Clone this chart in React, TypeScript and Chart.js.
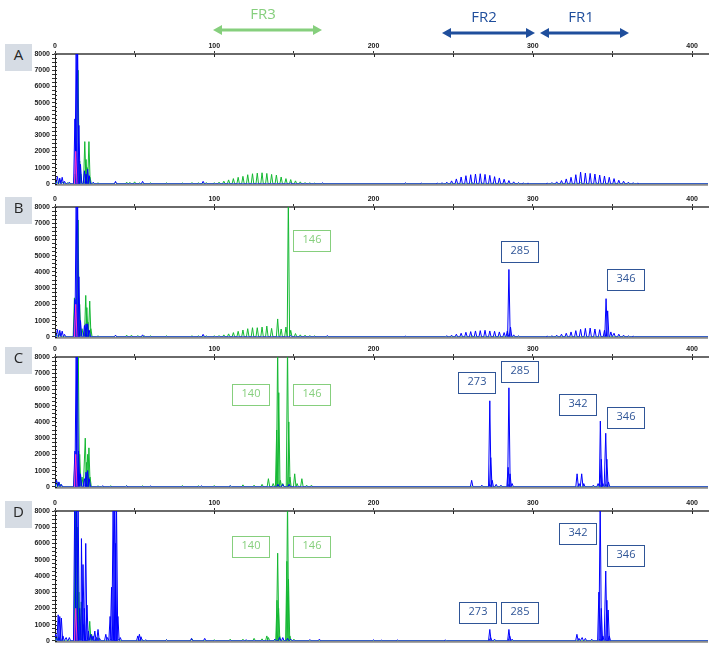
import React, { useEffect, useRef } from 'react';
import { Chart, registerables } from 'chart.js';
Chart.register(...registerables);

// ---------- DATA (fragment size in bp, peak height in RFU) ----------
const xTickValues = [0, 100, 200, 300, 400];
const yTickValues = [0, 1000, 2000, 3000, 4000, 5000, 6000, 7000, 8000];

// Panel A
const aGreenSize = [1, 3, 5, 8, 12.4, 14.5, 15.5, 16.2, 18.7, 19.5, 20.2, 21.3, 22,
  27, 38, 45, 47, 50, 53, 60, 70, 80, 86, 90, 95,
  100, 103, 106, 109, 112, 115, 118, 121, 124, 127, 130, 133, 136, 139, 142, 145, 148, 151, 154, 157, 160, 163,
  262, 268, 275, 330, 340];
const aGreenHeight = [150, 250, 120, 80, 600, 7000, 1400, 600, 2600, 1500, 1000, 2600, 400,
  60, 80, 100, 90, 120, 60, 60, 60, 50, 80, 60, 80,
  60, 100, 160, 240, 320, 400, 460, 560, 620, 660, 680, 640, 580, 540, 420, 320, 260, 180, 120, 80, 60, 40,
  60, 60, 50, 60, 50];
const aBlueSize = [1.5, 3, 4.5, 6, 9, 12.5, 13.3, 14.2, 15, 16, 18.5, 19.5, 20.5, 21.5, 24,
  38, 55, 93, 148, 168, 220, 230,
  240, 243, 246, 249, 252, 255, 258, 261, 264, 267, 270, 273, 276, 279, 282, 285, 288, 291, 294, 297,
  309, 312, 315, 318, 321, 324, 327, 330, 333, 336, 339, 342, 345, 348, 351, 354, 357, 360, 363, 366];
const aBlueHeight = [450, 350, 400, 150, 100, 4000, 8600, 8600, 3600, 1200, 800, 600, 900, 500, 100,
  150, 150, 150, 50, 60, 60, 40,
  40, 60, 100, 180, 300, 420, 500, 560, 600, 620, 580, 520, 440, 360, 280, 200, 120, 80, 50, 40,
  40, 80, 120, 200, 300, 400, 560, 720, 660, 640, 600, 540, 480, 400, 320, 220, 160, 100, 60, 40];
const aPinkSize = [13];
const aPinkHeight = [2000];

// Panel B
const bGreenSize = [1, 3, 12.2, 14.5, 15.5, 17, 19.3, 20, 20.7, 21.8, 22.5,
  27, 38, 45, 48, 52, 56, 60, 70, 86, 90, 95,
  100, 103, 106, 109, 112, 115, 118, 121, 124, 127, 130, 133, 136,
  139.8, 142, 145, 146.5, 148, 151, 154, 157, 160, 163,
  262, 285, 346];
const bGreenHeight = [150, 200, 2400, 7200, 2000, 500, 2550, 1800, 900, 2200, 500,
  60, 80, 100, 100, 80, 60, 60, 60, 60, 60, 60,
  60, 80, 120, 180, 260, 340, 420, 500, 560, 560, 600, 660, 520,
  1100, 480, 600, 8600, 400, 200, 120, 100, 80, 60,
  50, 100, 100];
const bBlueSize = [1.5, 3, 4.5, 6, 12.5, 13.3, 14.2, 15, 16, 18.5, 19.5, 20.5, 21.5,
  38, 55, 93, 148, 171, 220,
  246, 249, 252, 255, 258, 261, 264, 267, 270, 273, 276, 279, 282, 284, 285, 286, 288, 291,
  309, 312, 315, 318, 321, 324, 327, 330, 333, 336, 339, 342, 345, 346, 347, 349, 351, 354, 357, 360, 363];
const bBlueHeight = [450, 400, 350, 150, 2300, 8600, 8600, 3700, 1000, 700, 800, 800, 400,
  100, 120, 150, 80, 80, 40,
  60, 100, 160, 220, 280, 320, 360, 380, 400, 360, 340, 300, 260, 360, 4150, 600, 120, 60,
  40, 60, 100, 160, 220, 300, 380, 460, 520, 540, 480, 440, 400, 2350, 1600, 300, 220, 160, 100, 60, 40];
const bPinkSize = [13];
const bPinkHeight = [2000];

// Panel C
const cGreenSize = [1, 2, 3.5, 12.5, 14.6, 15.5, 17, 19, 19.8, 20.5, 21.3, 22,
  27, 35, 45, 55, 80, 90, 100, 110, 118, 125, 130,
  134, 137, 139.2, 139.8, 140.5, 141.5, 143, 146, 146.8, 147.5, 150.5, 152, 155, 158, 161,
  262, 273, 285, 342, 346];
const cGreenHeight = [200, 300, 150, 1500, 8600, 2000, 600, 3000, 1500, 2000, 2400, 600,
  60, 60, 60, 60, 80, 60, 80, 60, 120, 100, 150,
  500, 200, 3500, 8600, 5800, 400, 200, 8600, 4000, 600, 800, 200, 500, 100, 100,
  60, 150, 150, 150, 150];
const cBlueSize = [1, 2.5, 4, 12.5, 13.3, 14, 14.8, 16, 18.5, 19.5, 20.5, 21.5,
  30, 45, 60, 92, 110, 140, 143, 147,
  261.6, 268, 273, 273.6, 274.5, 277, 280, 284.5, 285, 285.7, 287,
  327.8, 329, 330.7, 332, 338, 341, 342.4, 343, 344, 345.8, 346.5, 347.5];
const cBlueHeight = [400, 300, 150, 2200, 8600, 8600, 2200, 800, 500, 900, 1000, 500,
  60, 50, 50, 60, 60, 150, 150, 150,
  400, 100, 5300, 1800, 400, 150, 100, 1200, 6100, 800, 200,
  800, 200, 800, 200, 100, 200, 4050, 1700, 200, 3300, 1700, 300];
const cPinkSize = [13];
const cPinkHeight = [2000];

// Panel D
const dGreenSize = [1, 2.5, 12.8, 13.5, 14.2, 15, 16.5, 18, 21.8, 23, 27,
  35, 40, 55, 70, 86, 100, 110, 118, 125, 130,
  133, 134, 139.4, 139.8, 140.4, 141, 145.6, 146, 146.6, 147.5, 150,
  273, 285, 342];
const dGreenHeight = [300, 200, 8600, 8600, 7000, 3000, 2400, 1000, 1200, 400, 200,
  100, 100, 60, 60, 120, 60, 100, 100, 150, 120,
  300, 200, 2500, 5400, 2000, 300, 4900, 8600, 3800, 300, 100,
  80, 80, 100];
const dBlueSize = [0.5, 2, 3, 4, 5, 7, 9, 12.4, 13.4, 14.5, 15.5, 16.6, 17.6, 18.4, 19.3, 20.1, 21,
  22.5, 23.9, 25, 26, 27, 28, 31.9, 33, 34.6, 35.5, 36.5, 37.5, 38, 38.6, 39.5, 41,
  52, 53, 54, 57, 70, 85.7, 94, 120, 138, 141, 143, 146, 148, 160, 166,
  200, 205, 215, 245, 273, 273.5, 276, 285, 285.5, 287,
  327.7, 329, 331, 333, 337, 341.5, 342.3, 343, 344, 345.8, 346.5, 347.3, 348];
const dBlueHeight = [400, 1600, 1500, 1400, 300, 200, 200, 8600, 8600, 8600, 2000, 6300, 4700, 2000, 6000, 2200, 600,
  400, 300, 600, 200, 700, 150, 400, 200, 1500, 3300, 8600, 8600, 6000, 8600, 1500, 200,
  300, 400, 250, 60, 60, 150, 150, 60, 100, 200, 200, 150, 100, 80, 100,
  60, 40, 50, 50, 700, 200, 100, 700, 300, 100,
  400, 150, 200, 150, 100, 3000, 8600, 2000, 300, 4300, 2500, 1900, 300];
const dPinkSize = [13];
const dPinkHeight = [2000];

const panelLetters = ['A', 'B', 'C', 'D'];
const regionNames = ['FR3', 'FR2', 'FR1'];
const bLabels = ['146', '285', '346'];
const cLabels = ['140', '146', '273', '285', '342', '346'];
const dLabels = ['140', '146', '273', '285', '342', '346'];

// ---------- LAYOUT / STYLE ----------
const X_MAX = 410;
const Y_MAX = 8000;
const HALF_WIDTH = 0.8;
const GREEN = '#14b832';
const BLUE = '#0000ff';
const PINK = '#ff33cc';
const LABEL_GREEN = '#86cf7d';
const LABEL_BLUE = '#2f5597';
const ARROW_BLUE = '#1f4e9c';
const PANEL_TOPS = [54, 207, 357, 511];
const PLOT_H = 133;
const X_AXIS_H = 14;

type Box = { text: string; kind: 'g' | 'b'; left: number; top: number };
const boxLayout: Box[] = [
  { text: bLabels[0], kind: 'g', left: 293, top: 230 },
  { text: bLabels[1], kind: 'b', left: 501, top: 241 },
  { text: bLabels[2], kind: 'b', left: 607, top: 269 },
  { text: cLabels[0], kind: 'g', left: 232, top: 384 },
  { text: cLabels[1], kind: 'g', left: 293, top: 384 },
  { text: cLabels[2], kind: 'b', left: 458, top: 372 },
  { text: cLabels[3], kind: 'b', left: 501, top: 361 },
  { text: cLabels[4], kind: 'b', left: 559, top: 394 },
  { text: cLabels[5], kind: 'b', left: 607, top: 407 },
  { text: dLabels[0], kind: 'g', left: 232, top: 536 },
  { text: dLabels[1], kind: 'g', left: 293, top: 536 },
  { text: dLabels[2], kind: 'b', left: 459, top: 602 },
  { text: dLabels[3], kind: 'b', left: 501, top: 602 },
  { text: dLabels[4], kind: 'b', left: 559, top: 523 },
  { text: dLabels[5], kind: 'b', left: 607, top: 545 },
];

function buildTrace(sizes: number[], heights: number[], fullBaseline: boolean) {
  const pairs = sizes.map((s, i) => [s, heights[i]]).sort((a, b) => a[0] - b[0]);
  const pts: { x: number; y: number }[] = fullBaseline ? [{ x: 0, y: 0 }] : [];
  for (const [s, h] of pairs) {
    pts.push({ x: s - HALF_WIDTH, y: 0 }, { x: s, y: h }, { x: s + HALF_WIDTH, y: 0 });
  }
  if (fullBaseline) pts.push({ x: X_MAX, y: 0 });
  return pts;
}

const axisDecor = {
  id: 'axisDecor',
  beforeDatasetsDraw(chart: any) {
    const { ctx, chartArea } = chart;
    ctx.save();
    ctx.strokeStyle = '#8a8a8a';
    ctx.lineWidth = 2;
    ctx.beginPath();
    ctx.moveTo(chartArea.left, chartArea.bottom + 1);
    ctx.lineTo(chartArea.right, chartArea.bottom + 1);
    ctx.stroke();
    ctx.restore();
  },
  afterDraw(chart: any) {
    const { ctx, chartArea, scales } = chart;
    ctx.save();
    ctx.strokeStyle = '#222';
    ctx.lineWidth = 1;
    ctx.beginPath();
    for (const t of scales.y.ticks) {
      const y = Math.round(scales.y.getPixelForValue(t.value)) + 0.5;
      ctx.moveTo(chartArea.left, y);
      ctx.lineTo(chartArea.left + 2, y);
    }
    for (const t of scales.x.ticks) {
      const x = Math.round(scales.x.getPixelForValue(t.value)) + 0.5;
      ctx.moveTo(x, chartArea.top);
      ctx.lineTo(x, chartArea.top + 3);
    }
    ctx.stroke();
    ctx.restore();
  },
};

type PanelProps = {
  top: number;
  gs: number[]; gh: number[];
  bs: number[]; bh: number[];
  ps: number[]; ph: number[];
};

function Panel({ top, gs, gh, bs, bh, ps, ph }: PanelProps) {
  const ref = useRef<HTMLCanvasElement>(null);
  useEffect(() => {
    const tickFont = { size: 7, family: 'Liberation Sans', weight: 'bold' as const };
    const chart = new Chart(ref.current as HTMLCanvasElement, {
      type: 'line',
      data: {
        datasets: [
          { data: buildTrace(ps, ph, false), borderColor: PINK, borderWidth: 1 },
          { data: buildTrace(bs, bh, true), borderColor: BLUE, borderWidth: 1 },
          { data: buildTrace(gs, gh, true), borderColor: GREEN, borderWidth: 1 },
        ],
      },
      options: {
        animation: false,
        responsive: false,
        devicePixelRatio: 1,
        layout: { padding: { top: 0, left: 0, right: 4, bottom: 3 } },
        plugins: { legend: { display: false }, tooltip: { enabled: false } },
        elements: { point: { radius: 0 }, line: { tension: 0 } },
        scales: {
          x: {
            type: 'linear',
            position: 'top',
            min: 0,
            max: X_MAX,
            afterFit: (s: any) => { s.height = X_AXIS_H; },
            ticks: {
              stepSize: 50,
              includeBounds: false,
              autoSkip: false,
              maxRotation: 0,
              padding: 1,
              color: '#222',
              font: tickFont,
              callback: (v: any) => (xTickValues.includes(Number(v)) ? String(v) : ''),
            },
            grid: { drawOnChartArea: false, tickLength: 3, color: '#333' },
            border: { color: '#6a6a6a', width: 2 },
          },
          y: {
            min: 0,
            max: Y_MAX,
            afterFit: (s: any) => { s.width = 55; },
            ticks: {
              stepSize: 250,
              autoSkip: false,
              padding: 2,
              color: '#222',
              font: tickFont,
              callback: (v: any) => (yTickValues.includes(Number(v)) ? String(v) : ''),
            },
            grid: { drawOnChartArea: false, tickLength: 3, color: '#333' },
            border: { color: '#222', width: 1 },
          },
        },
      },
      plugins: [axisDecor],
    } as any);
    return () => chart.destroy();
  }, []);
  return (
    <canvas
      ref={ref}
      width={712}
      height={X_AXIS_H + PLOT_H + 3}
      style={{ position: 'absolute', left: 0, top: top - X_AXIS_H }}
    />
  );
}

function Arrow({ x1, x2, y, color }: { x1: number; x2: number; y: number; color: string }) {
  return (
    <g>
      <line x1={x1 + 6} y1={y} x2={x2 - 6} y2={y} stroke={color} strokeWidth={3} />
      <polygon points={`${x1},${y} ${x1 + 9},${y - 5} ${x1 + 9},${y + 5}`} fill={color} />
      <polygon points={`${x2},${y} ${x2 - 9},${y - 5} ${x2 - 9},${y + 5}`} fill={color} />
    </g>
  );
}

export default function App() {
  const panels = [
    { gs: aGreenSize, gh: aGreenHeight, bs: aBlueSize, bh: aBlueHeight, ps: aPinkSize, ph: aPinkHeight },
    { gs: bGreenSize, gh: bGreenHeight, bs: bBlueSize, bh: bBlueHeight, ps: bPinkSize, ph: bPinkHeight },
    { gs: cGreenSize, gh: cGreenHeight, bs: cBlueSize, bh: cBlueHeight, ps: cPinkSize, ph: cPinkHeight },
    { gs: dGreenSize, gh: dGreenHeight, bs: dBlueSize, bh: dBlueHeight, ps: dPinkSize, ph: dPinkHeight },
  ];
  const headerText = [
    { t: regionNames[0], cx: 263, top: 4, color: LABEL_GREEN },
    { t: regionNames[1], cx: 484, top: 7, color: ARROW_BLUE },
    { t: regionNames[2], cx: 581, top: 7, color: ARROW_BLUE },
  ];
  return (
    <div style={{ position: 'absolute', left: 0, top: 0, width: 712, height: 653, background: '#fff', overflow: 'hidden' }}>
      {panels.map((p, i) => (
        <Panel key={i} top={PANEL_TOPS[i]} {...p} />
      ))}
      <svg width={712} height={50} style={{ position: 'absolute', left: 0, top: 0 }}>
        <Arrow x1={213} x2={322} y={30} color={LABEL_GREEN} />
        <Arrow x1={442} x2={535} y={33} color={ARROW_BLUE} />
        <Arrow x1={540} x2={629} y={33} color={ARROW_BLUE} />
      </svg>
      {headerText.map((h) => (
        <div
          key={h.t}
          style={{
            position: 'absolute', left: h.cx - 30, top: h.top, width: 60, textAlign: 'center',
            font: '15px "Open Sans", sans-serif', lineHeight: '18px', color: h.color,
          }}
        >
          {h.t}
        </div>
      ))}
      {panelLetters.map((l, i) => (
        <div
          key={l}
          style={{
            position: 'absolute', left: 5, top: PANEL_TOPS[i] - 10, width: 27, height: 27,
            background: '#d6dce4', color: '#262626', textAlign: 'center', lineHeight: '27px',
            font: '15px "Open Sans", sans-serif',
          }}
        >
          {l}
        </div>
      ))}
      {boxLayout.map((b, i) => (
        <div
          key={i}
          style={{
            position: 'absolute', left: b.left, top: b.top, width: 38, height: 22, boxSizing: 'border-box',
            border: `1.5px solid ${b.kind === 'g' ? LABEL_GREEN : LABEL_BLUE}`,
            color: b.kind === 'g' ? LABEL_GREEN : LABEL_BLUE, textAlign: 'center', lineHeight: '19px',
            font: '11px "Open Sans", sans-serif',
          }}
        >
          {b.text}
        </div>
      ))}
    </div>
  );
}
